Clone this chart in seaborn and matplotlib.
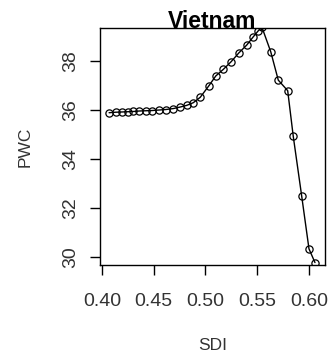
import matplotlib
matplotlib.use("Agg")
import matplotlib.pyplot as plt
import seaborn as sns
import pandas as pd

# SDI vs PWC for Vietnam
sdi = [0.4068, 0.4132, 0.4191, 0.4249, 0.4303, 0.4361, 0.4423, 0.4486, 0.4551,
       0.4616, 0.4690, 0.4754, 0.4819, 0.4883, 0.4950, 0.5035, 0.5100, 0.5173,
       0.5248, 0.5325, 0.5399, 0.5463, 0.5512, 0.5547, 0.5632, 0.5705, 0.5796,
       0.5850, 0.5931, 0.6002, 0.6060]
pwc = [35.89, 35.91, 35.92, 35.93, 35.94, 35.96, 35.97, 35.98, 36.00,
       36.02, 36.06, 36.12, 36.19, 36.30, 36.52, 37.00, 37.39, 37.66,
       37.97, 38.34, 38.65, 38.99, 39.24, 39.38, 38.38, 37.22, 36.79,
       34.92, 32.50, 30.33, 29.77]
x_ticks = [0.40, 0.45, 0.50, 0.55, 0.60]
x_tick_labels = ["0.40", "0.45", "0.50", "0.55", "0.60"]
y_ticks = [30, 32, 34, 36, 38]
y_tick_labels = ["30", "32", "34", "36", "38"]

df = pd.DataFrame({"SDI": sdi, "PWC": pwc})

sns.set_theme(style="ticks")
plt.rcParams["font.family"] = ["Liberation Sans", "DejaVu Sans"]

fig = plt.figure(figsize=(3.32, 3.59), dpi=100)
ax = fig.add_axes([100 / 332, 1 - 265 / 359, 225 / 332, 237 / 359])

sns.lineplot(data=df, x="SDI", y="PWC", ax=ax, color="black", linewidth=1.0,
             marker="o", markersize=5.2, markerfacecolor="none",
             markeredgecolor="black", markeredgewidth=0.9, sort=False)

ax.set_xlim(0.398, 0.6157)
ax.set_ylim(29.67, 39.35)
ax.set_xticks(x_ticks)
ax.set_xticklabels(x_tick_labels)
ax.set_yticks(y_ticks)
ax.set_yticklabels(y_tick_labels, rotation=90, va="center")

for side in ["left", "right", "top", "bottom"]:
    ax.spines[side].set_visible(True)
    ax.spines[side].set_color("black")
    ax.spines[side].set_linewidth(1.0)

ax.tick_params(axis="both", direction="out", length=7, width=1.0,
               colors="black", labelcolor="#333333", labelsize=14)
ax.tick_params(axis="x", pad=13)
ax.tick_params(axis="y", pad=8)

ax.set_xlabel("SDI", fontsize=12.5, color="#333333", labelpad=20)
ax.set_ylabel("PWC", fontsize=12.5, color="#333333", labelpad=21)
ax.text(0.5, 1.0, "Vietnam", transform=ax.transAxes, ha="center",
        va="baseline", fontsize=16.5, fontweight="bold", color="black")

fig.savefig("out.png", dpi=100)
